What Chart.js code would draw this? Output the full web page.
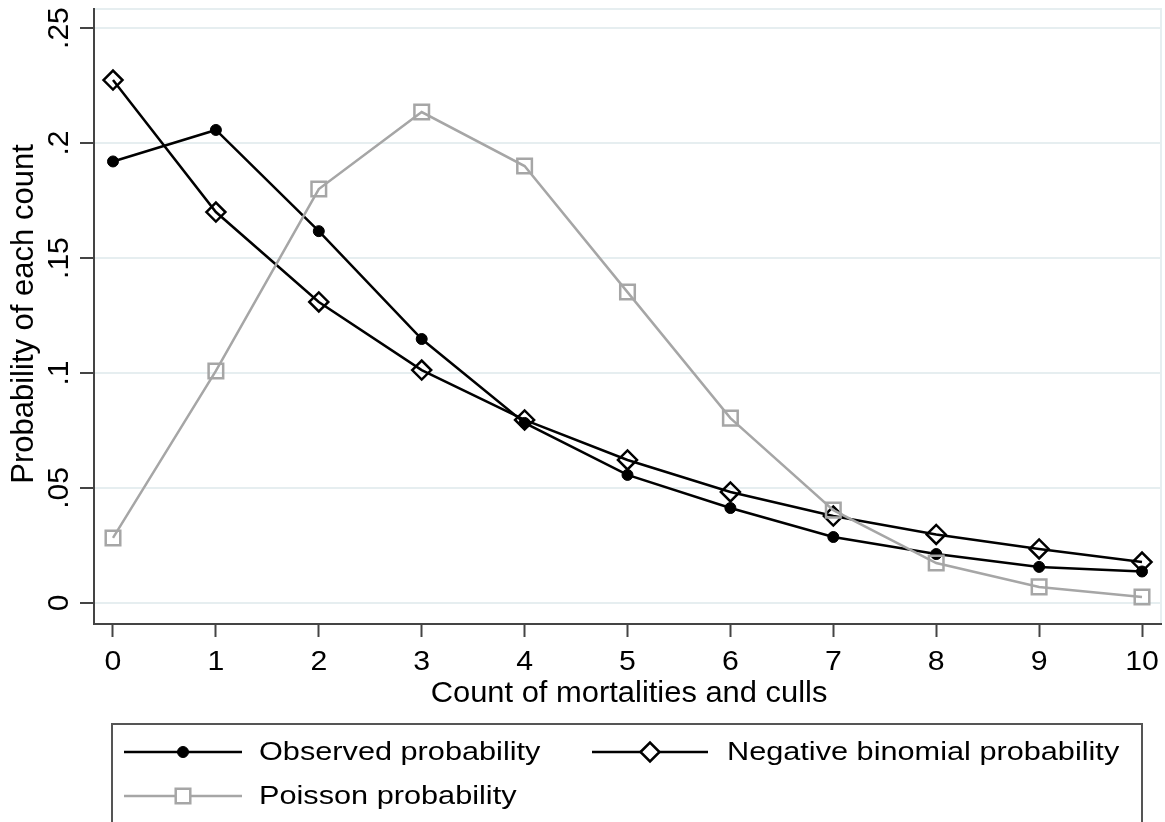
<!DOCTYPE html>
<html>
<head>
<meta charset="utf-8">
<script src="https://cdn.jsdelivr.net/npm/chart.js@4"></script>
<style>
  html, body { margin: 0; padding: 0; background: #fff; }
  #wrap { width: 1165px; height: 822px; }
</style>
</head>
<body>
<div id="wrap"><canvas id="myChart" width="1165" height="822"></canvas></div>
<script>
// counts on the x axis
var counts = [0, 1, 2, 3, 4, 5, 6, 7, 8, 9, 10];
// probabilities
var observed = [0.192, 0.2057, 0.1617, 0.1148, 0.0783, 0.0557, 0.0413, 0.0287, 0.0213, 0.0157, 0.0137];
var negBinomial = [0.2274, 0.170, 0.1309, 0.1013, 0.0796, 0.0622, 0.0483, 0.0378, 0.0298, 0.0235, 0.0178];
var poisson = [0.0283, 0.1009, 0.180, 0.2135, 0.190, 0.1352, 0.0804, 0.0404, 0.0174, 0.0070, 0.0026];

var yTicks = [0, 0.05, 0.1, 0.15, 0.2, 0.25];
var yTickLabels = ['0', '.05', '.1', '.15', '.2', '.25'];
var xTickLabels = ['0', '1', '2', '3', '4', '5', '6', '7', '8', '9', '10'];

var FONT = '"Liberation Sans", Arial, sans-serif';

function toPoints(values) {
    var pts = [];
    for (var i = 0; i < counts.length; i++) {
        pts.push({ x: counts[i], y: values[i] });
    }
    return pts;
}

// text with an optional horizontal stretch, the reference fonts are a bit wide
function drawText(ctx, text, x, y, size, sx, align, baseline) {
    ctx.save();
    ctx.translate(x, y);
    ctx.scale(sx, 1);
    ctx.font = size + 'px ' + FONT;
    ctx.fillStyle = '#000';
    ctx.textAlign = align;
    ctx.textBaseline = baseline;
    ctx.fillText(text, 0, 0);
    ctx.restore();
}

var plotFrame = {
    id: 'plotFrame',
    beforeDraw: function(chart) {
        var a = chart.chartArea, ctx = chart.ctx;
        ctx.save();
        ctx.strokeStyle = '#e6eef0';
        ctx.lineWidth = 2;
        ctx.strokeRect(a.left, a.top, a.right - a.left, a.bottom - a.top);
        ctx.restore();
    }
};

var labelsAndLegend = {
    id: 'labelsAndLegend',
    afterDraw: function(chart) {
        var ctx = chart.ctx;
        var xs = chart.scales.x, ys = chart.scales.y;

        // y tick labels, rotated
        for (var i = 0; i < yTicks.length; i++) {
            var py = ys.getPixelForValue(yTicks[i]);
            ctx.save();
            ctx.translate(68, py);
            ctx.rotate(-Math.PI / 2);
            ctx.font = '30px ' + FONT;
            ctx.fillStyle = '#000';
            ctx.textAlign = 'center';
            ctx.textBaseline = 'alphabetic';
            ctx.fillText(yTickLabels[i], 0, 0);
            ctx.restore();
        }
        // x tick labels
        for (var j = 0; j < counts.length; j++) {
            drawText(ctx, xTickLabels[j], xs.getPixelForValue(counts[j]), 670, 28, 1.08, 'center', 'alphabetic');
        }
        // axis titles
        drawText(ctx, 'Count of mortalities and culls', 629, 702, 30, 1.03, 'center', 'alphabetic');
        ctx.save();
        ctx.translate(33, 314);
        ctx.rotate(-Math.PI / 2);
        ctx.font = '31px ' + FONT;
        ctx.fillStyle = '#000';
        ctx.textAlign = 'center';
        ctx.textBaseline = 'alphabetic';
        ctx.fillText('Probability of each count', 0, 0);
        ctx.restore();

        // legend box
        ctx.save();
        ctx.strokeStyle = '#555';
        ctx.lineWidth = 2;
        ctx.strokeRect(112, 724, 1030, 120);
        ctx.restore();

        var entries = [
            { ds: 0, x1: 124, x2: 242, y: 752, tx: 259 },
            { ds: 1, x1: 592, x2: 708, y: 752, tx: 727 },
            { ds: 2, x1: 124, x2: 242, y: 796, tx: 259 }
        ];
        entries.forEach(function(e) {
            var ds = chart.data.datasets[e.ds];
            ctx.save();
            ctx.strokeStyle = ds.borderColor;
            ctx.lineWidth = ds.borderWidth;
            ctx.beginPath();
            ctx.moveTo(e.x1, e.y);
            ctx.lineTo(e.x2, e.y);
            ctx.stroke();
            ctx.restore();
            var mx = e.ds === 1 ? 650 : 183;
            ctx.save();
            ctx.fillStyle = e.ds === 0 ? ds.pointBackgroundColor : '#fff';
            ctx.strokeStyle = ds.pointBorderColor;
            ctx.lineWidth = ds.pointBorderWidth;
            Chart.helpers.drawPoint(ctx, {
                pointStyle: ds.pointStyle,
                radius: ds.pointRadius,
                borderWidth: ds.pointBorderWidth,
                rotation: 0
            }, mx, e.y);
            ctx.restore();
            drawText(ctx, ds.label, e.tx, e.y + 1, 26, 1.18, 'left', 'middle');
        });
    }
};

var ctx = document.getElementById('myChart').getContext('2d');
var myChart = new Chart(ctx, {
    type: 'line',
    data: {
        datasets: [{
            label: 'Observed probability',
            data: toPoints(observed),
            borderColor: '#000',
            borderWidth: 2.5,
            pointStyle: 'circle',
            pointRadius: 5.5,
            pointBackgroundColor: '#000',
            pointBorderColor: '#000',
            pointBorderWidth: 1,
            order: 3
        },
        {
            label: 'Negative binomial probability',
            data: toPoints(negBinomial),
            borderColor: '#000',
            borderWidth: 2.5,
            pointStyle: 'rectRot',
            pointRadius: 9.5,
            pointBackgroundColor: 'rgba(0,0,0,0)',
            pointBorderColor: '#000',
            pointBorderWidth: 2.5,
            order: 2
        },
        {
            label: 'Poisson probability',
            data: toPoints(poisson),
            borderColor: '#a6a6a6',
            borderWidth: 2.5,
            pointStyle: 'rect',
            pointRadius: 10.3,
            pointBackgroundColor: 'rgba(0,0,0,0)',
            pointBorderColor: '#a6a6a6',
            pointBorderWidth: 2.5,
            order: 1
        }]
    },
    options: {
        responsive: false,
        animation: false,
        devicePixelRatio: 1,
        layout: { autoPadding: false, padding: { top: 9, right: 4, left: 0, bottom: 0 } },
        elements: { line: { tension: 0 } },
        plugins: {
            legend: { display: false },
            tooltip: { enabled: false }
        },
        scales: {
            x: {
                type: 'linear',
                min: -0.1846,
                max: 10.1846,
                afterBuildTicks: function(scale) {
                    scale.ticks = counts.map(function(v) { return { value: v }; });
                },
                afterFit: function(scale) { scale.height = 198; },
                ticks: { display: false },
                grid: {
                    drawOnChartArea: false,
                    drawTicks: true,
                    tickLength: 13,
                    tickColor: '#444',
                    tickWidth: 2
                },
                border: { color: '#444', width: 2 }
            },
            y: {
                type: 'linear',
                min: -0.00913,
                max: 0.2583,
                afterBuildTicks: function(scale) {
                    scale.ticks = yTicks.map(function(v) { return { value: v }; });
                },
                afterFit: function(scale) { scale.width = 94; },
                ticks: { display: false },
                grid: {
                    color: '#e6eef0',
                    lineWidth: 2,
                    drawTicks: true,
                    tickLength: 14,
                    tickColor: '#444',
                    tickWidth: 2
                },
                border: { color: '#444', width: 2 }
            }
        }
    },
    plugins: [plotFrame, labelsAndLegend]
});
</script>
</body>
</html>
